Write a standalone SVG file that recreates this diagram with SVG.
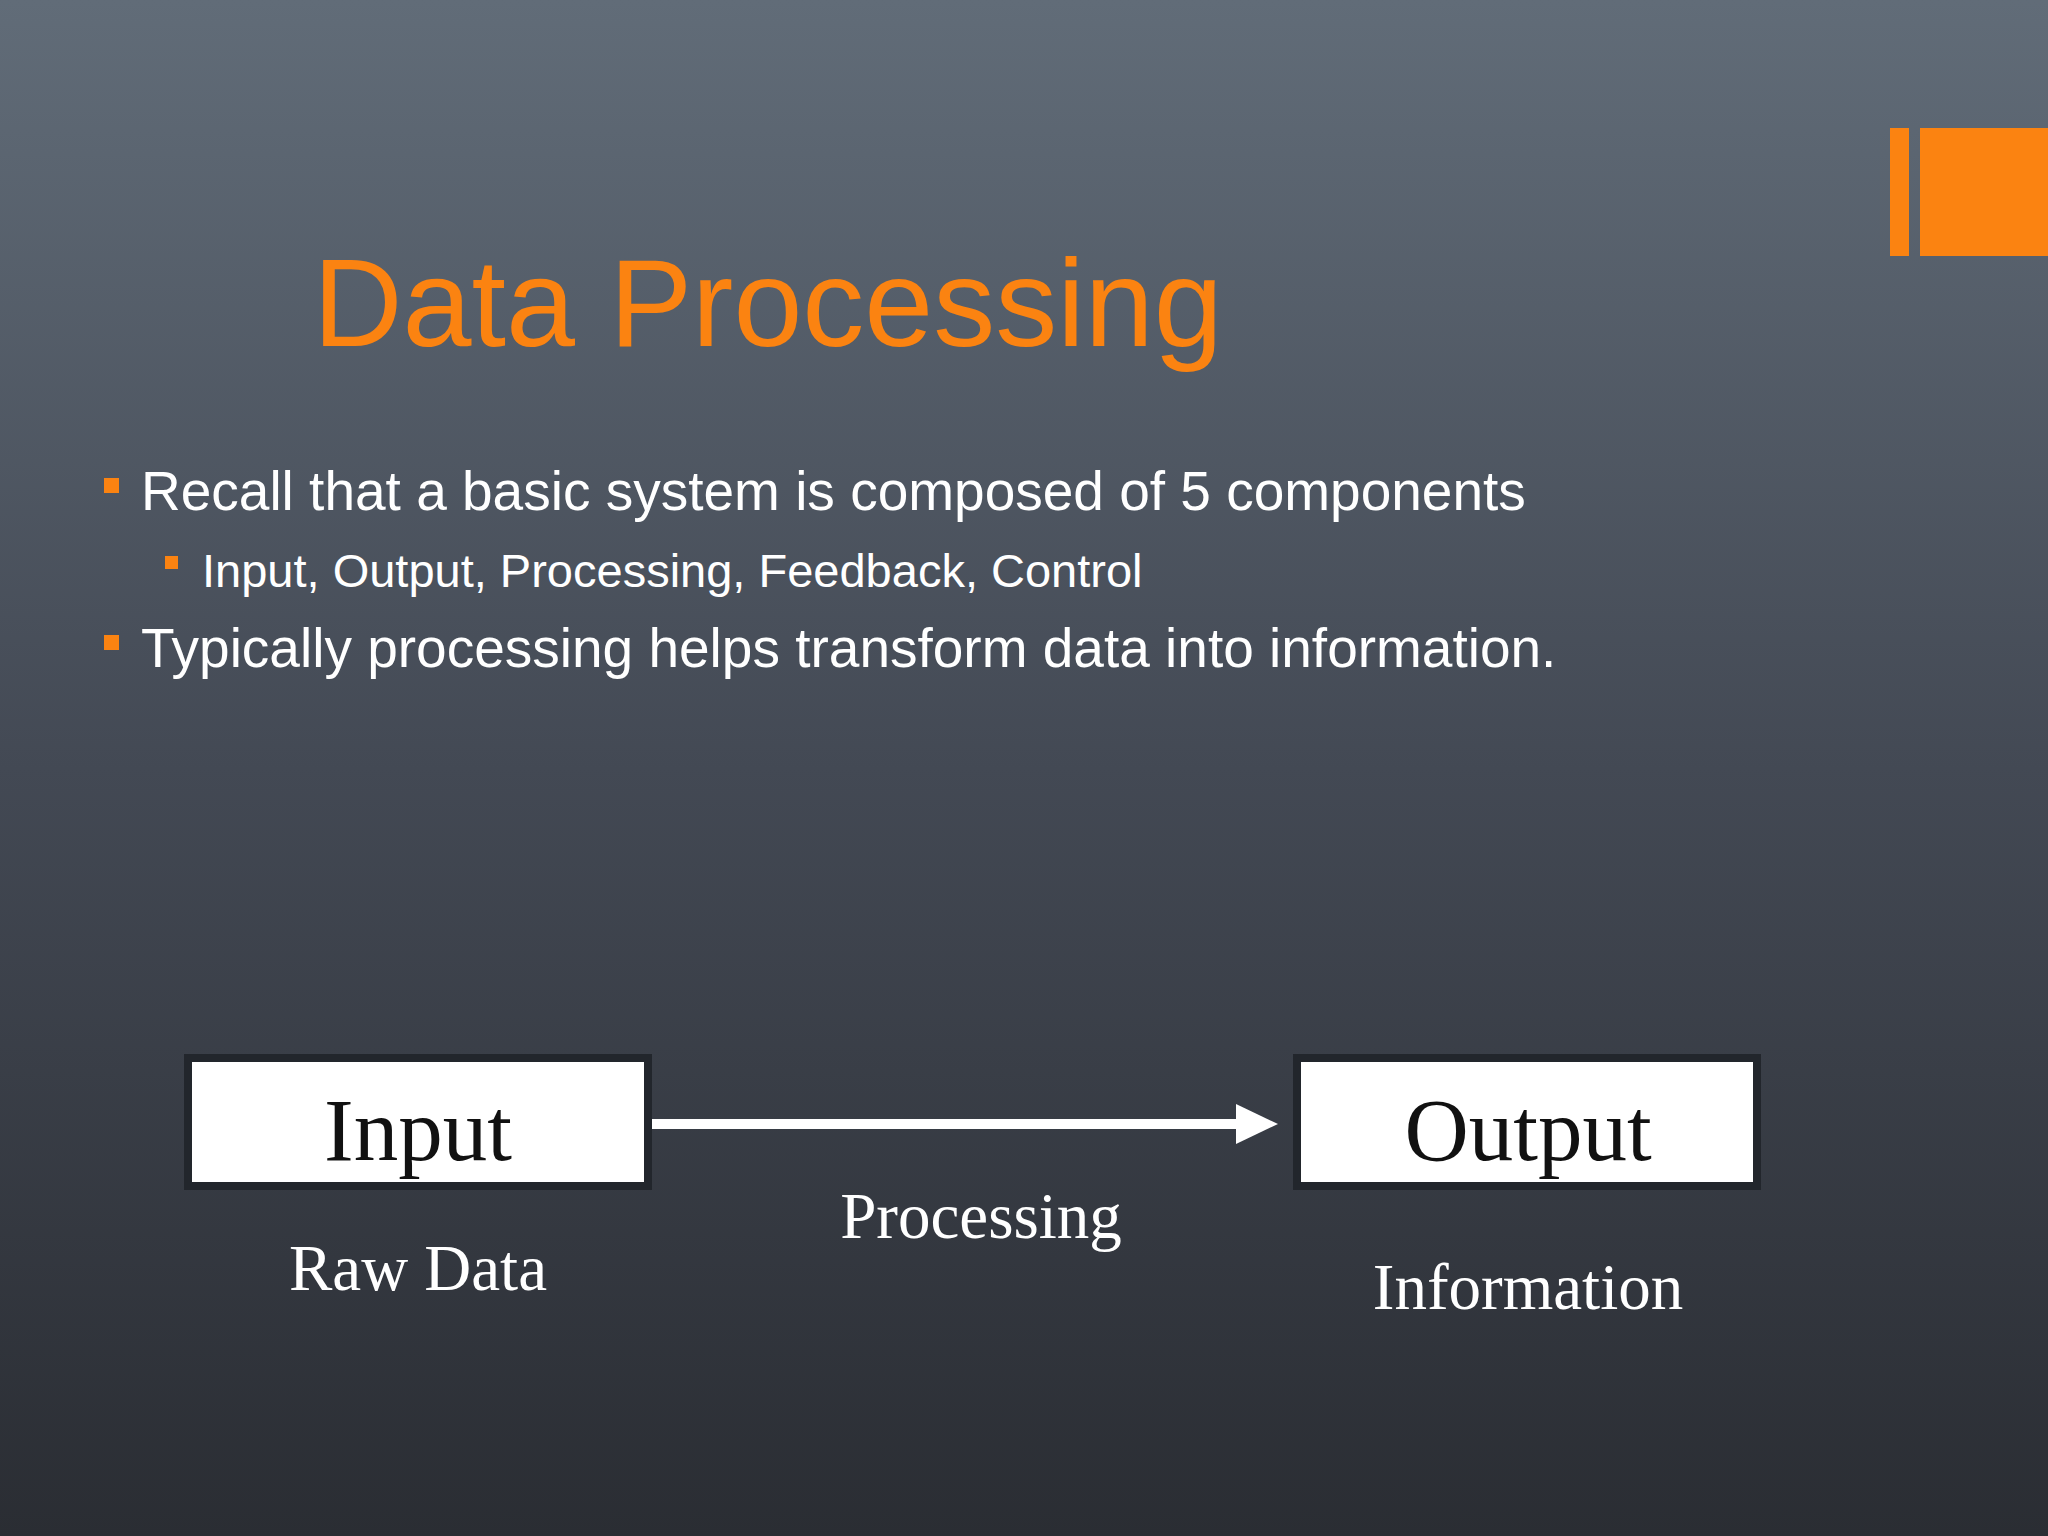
<svg xmlns="http://www.w3.org/2000/svg" width="2048" height="1536" viewBox="0 0 2048 1536">
<defs>
<linearGradient id="bg" x1="0" y1="0" x2="0" y2="1">
<stop offset="0" stop-color="#616c78"/><stop offset="0.5" stop-color="#434954"/><stop offset="1" stop-color="#2a2d33"/>
</linearGradient>
<marker id="ah" markerWidth="4.2" markerHeight="4" refX="0.2" refY="2" orient="auto" markerUnits="strokeWidth"><polygon points="0,0 4.2,2 0,4" fill="#fff"/></marker>
</defs>
<style>
.b{font-family:"Liberation Sans",Arial,sans-serif;fill:#fff}
.s{font-family:"Liberation Serif","Times New Roman",serif;text-anchor:middle}
.box{fill:#fff;stroke:#22262c;stroke-width:8}
.or{fill:#fb8311}
</style>
<rect width="2048" height="1536" fill="url(#bg)"/>
<rect class="or" x="1890" y="128" width="19" height="128"/>
<rect class="or" x="1920" y="128" width="128" height="128"/>
<text x="313" y="346" font-family="Liberation Sans,Arial,sans-serif" font-size="124" fill="#fb8311">Data Processing</text>
<rect class="or" x="104" y="478" width="15" height="15"/>
<text class="b" x="141" y="510" font-size="55">Recall that a basic system is composed of 5 components</text>
<rect class="or" x="165" y="556" width="13" height="13"/>
<text class="b" x="202" y="587" font-size="47">Input, Output, Processing, Feedback, Control</text>
<rect class="or" x="104" y="635" width="15" height="15"/>
<text class="b" x="141" y="667" font-size="55">Typically processing helps transform data into information.</text>
<g id="connectors"><line x1="649" y1="1124" x2="1238" y2="1124" stroke="#fff" stroke-width="10" marker-end="url(#ah)"/></g>
<g id="input"><rect class="box" x="188" y="1058" width="460" height="128"/><text class="s" x="418" y="1160" font-size="89" fill="#111">Input</text></g>
<g id="output"><rect class="box" x="1297" y="1058" width="460" height="128"/><text class="s" x="1528" y="1160" font-size="89" fill="#111">Output</text></g>
<text class="s" x="981" y="1238" font-size="65" fill="#fff">Processing</text>
<text class="s" x="418" y="1290" font-size="65" fill="#fff">Raw Data</text>
<text class="s" x="1528" y="1309" font-size="65" fill="#fff">Information</text>
</svg>
